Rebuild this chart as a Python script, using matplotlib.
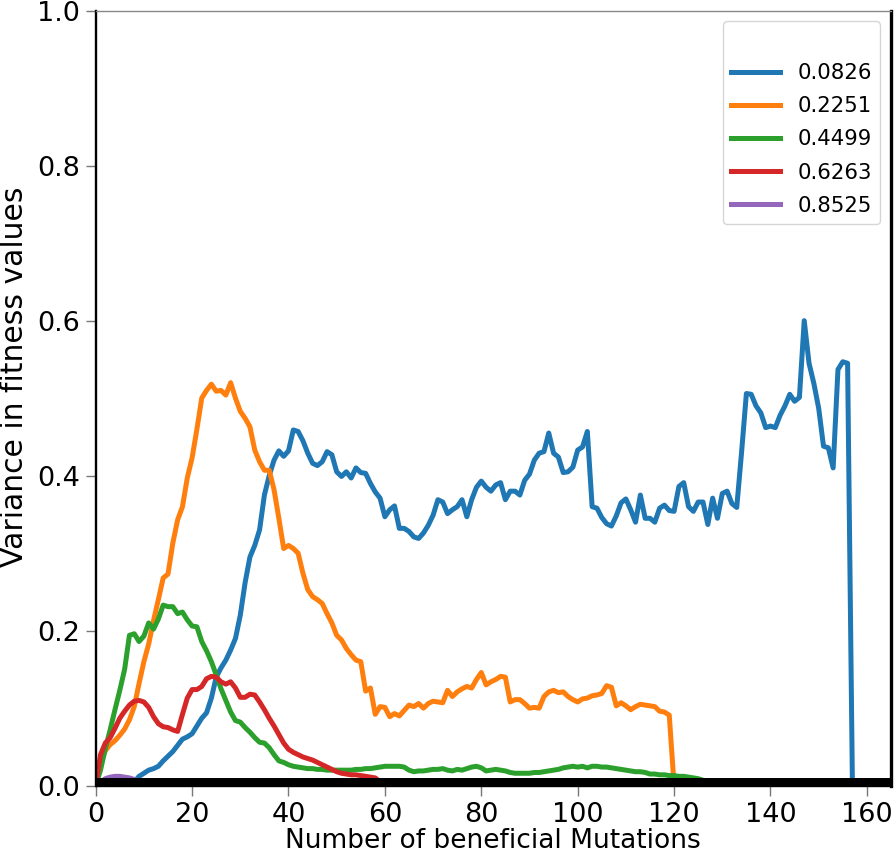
import matplotlib
matplotlib.use("Agg")
import matplotlib.pyplot as plt
import numpy as np

labels = ["0.0826", "0.2251", "0.4499", "0.6263", "0.8525"]
colors = ["#1f77b4", "#ff7f0e", "#2ca02c", "#d62728", "#9467bd"]

blue = [0.0, 0.0, 0.0, 0.0, 0.0, 0.0, 0.0, 0.0, 0.005, 0.012,
        0.016, 0.02, 0.022, 0.025, 0.032, 0.038, 0.044, 0.052, 0.06, 0.063,
        0.067, 0.077, 0.087, 0.094, 0.113, 0.14, 0.152, 0.162, 0.175, 0.19,
        0.22, 0.262, 0.295, 0.31, 0.33, 0.375, 0.40, 0.42, 0.432, 0.425,
        0.432, 0.459, 0.457, 0.445, 0.429, 0.416, 0.413, 0.418, 0.431, 0.427,
        0.405, 0.399, 0.405, 0.397, 0.410, 0.404, 0.403, 0.390, 0.379, 0.371,
        0.347, 0.356, 0.361, 0.332, 0.332, 0.328, 0.321, 0.319, 0.326, 0.336,
        0.349, 0.369, 0.366, 0.351, 0.356, 0.360, 0.369, 0.347, 0.369, 0.385,
        0.393, 0.385, 0.380, 0.388, 0.391, 0.369, 0.380, 0.380, 0.375, 0.394,
        0.402, 0.420, 0.429, 0.431, 0.455, 0.429, 0.424, 0.404, 0.405, 0.411,
        0.433, 0.437, 0.457, 0.360, 0.358, 0.346, 0.338, 0.335, 0.348, 0.365,
        0.370, 0.356, 0.340, 0.375, 0.345, 0.345, 0.340, 0.358, 0.362, 0.355,
        0.354, 0.386, 0.391, 0.360, 0.354, 0.366, 0.366, 0.337, 0.371, 0.345,
        0.377, 0.380, 0.364, 0.359, 0.43, 0.506, 0.505, 0.490, 0.481, 0.462,
        0.464, 0.462, 0.478, 0.490, 0.505, 0.496, 0.501, 0.600, 0.545, 0.519,
        0.487, 0.438, 0.436, 0.410, 0.537, 0.547, 0.545, 0.0]

orange = [0.0, 0.03, 0.045, 0.053, 0.058, 0.065, 0.073, 0.085, 0.102, 0.132,
          0.16, 0.183, 0.213, 0.24, 0.268, 0.273, 0.313, 0.343, 0.36, 0.397,
          0.423, 0.46, 0.50, 0.51, 0.518, 0.509, 0.51, 0.504, 0.52, 0.50,
          0.483, 0.474, 0.463, 0.433, 0.418, 0.407, 0.407, 0.382, 0.345, 0.306,
          0.31, 0.306, 0.30, 0.274, 0.253, 0.244, 0.24, 0.235, 0.222, 0.21,
          0.194, 0.188, 0.177, 0.169, 0.162, 0.16, 0.122, 0.126, 0.092, 0.102,
          0.101, 0.089, 0.093, 0.090, 0.097, 0.104, 0.102, 0.106, 0.100, 0.106,
          0.109, 0.108, 0.107, 0.123, 0.115, 0.121, 0.125, 0.128, 0.126, 0.137,
          0.146, 0.130, 0.134, 0.137, 0.141, 0.140, 0.108, 0.111, 0.111, 0.106,
          0.100, 0.101, 0.100, 0.115, 0.121, 0.123, 0.120, 0.121, 0.115, 0.111,
          0.108, 0.112, 0.113, 0.116, 0.117, 0.119, 0.129, 0.127, 0.103, 0.107,
          0.103, 0.098, 0.102, 0.105, 0.104, 0.103, 0.102, 0.096, 0.095, 0.091,
          0.0]

green = [0.0, 0.02, 0.048, 0.072, 0.098, 0.123, 0.15, 0.194, 0.196, 0.186,
         0.193, 0.21, 0.202, 0.215, 0.233, 0.231, 0.231, 0.222, 0.224, 0.214,
         0.206, 0.205, 0.186, 0.174, 0.16, 0.143, 0.125, 0.11, 0.095, 0.084,
         0.082, 0.075, 0.069, 0.062, 0.056, 0.055, 0.049, 0.04, 0.032, 0.030,
         0.027, 0.025, 0.024, 0.023, 0.022, 0.022, 0.021, 0.021, 0.020, 0.020,
         0.020, 0.020, 0.020, 0.020, 0.021, 0.021, 0.022, 0.022, 0.023, 0.024,
         0.025, 0.025, 0.025, 0.025, 0.024, 0.020, 0.018, 0.019, 0.019, 0.020,
         0.021, 0.021, 0.022, 0.020, 0.019, 0.021, 0.020, 0.022, 0.024, 0.025,
         0.023, 0.019, 0.020, 0.021, 0.020, 0.019, 0.017, 0.016, 0.016, 0.016,
         0.016, 0.017, 0.017, 0.018, 0.019, 0.020, 0.021, 0.023, 0.024, 0.025,
         0.024, 0.025, 0.023, 0.025, 0.025, 0.024, 0.024, 0.023, 0.022, 0.021,
         0.020, 0.019, 0.018, 0.018, 0.017, 0.015, 0.015, 0.014, 0.014, 0.013,
         0.013, 0.012, 0.012, 0.011, 0.010, 0.009, 0.007, 0.005, 0.003, 0.001,
         0.0]

red = [0.0, 0.04, 0.055, 0.062, 0.074, 0.087, 0.096, 0.104, 0.109, 0.110,
       0.108, 0.101, 0.089, 0.080, 0.076, 0.075, 0.072, 0.070, 0.092, 0.113,
       0.124, 0.124, 0.128, 0.138, 0.141, 0.140, 0.134, 0.131, 0.134, 0.126,
       0.114, 0.114, 0.118, 0.117, 0.108, 0.098, 0.087, 0.077, 0.066, 0.055,
       0.047, 0.043, 0.040, 0.037, 0.035, 0.033, 0.030, 0.027, 0.024, 0.021,
       0.018, 0.016, 0.015, 0.014, 0.014, 0.013, 0.012, 0.011, 0.010, 0.005,
       0.0]

purple = [0.0, 0.005, 0.009, 0.011, 0.012, 0.012, 0.011, 0.010, 0.008, 0.005,
          0.002, 0.0]

series = [blue, orange, green, red, purple]

xticks = [0, 20, 40, 60, 80, 100, 120, 140, 160]
yticks = [0.0, 0.2, 0.4, 0.6, 0.8, 1.0]

fig = plt.figure(figsize=(8.96, 8.55), dpi=100)
ax = fig.add_axes([0.1068, 0.0811, 0.8876, 0.9064])

ax.plot([], [], ' ', label=' ')
for vals, c, lab in zip(series, colors, labels):
    ax.plot(np.arange(len(vals)), vals, color=c, lw=3.6, label=lab)

ax.axhline(0, color='black', lw=11.5, zorder=5)

ax.set_xlim(0, 165)
ax.set_ylim(0, 1.0)
ax.set_xticks(xticks)
ax.set_yticks(yticks)
ax.tick_params(axis='both', labelsize=19.5, length=7.5, width=1.0, color='#777777', pad=4)

ax.spines['top'].set_color('#888888')
ax.spines['top'].set_linewidth(1.0)
ax.spines['left'].set_color('black')
ax.spines['left'].set_linewidth(1.7)
ax.spines['right'].set_color('black')
ax.spines['right'].set_linewidth(2.4)
ax.spines['bottom'].set_color('black')
ax.spines['bottom'].set_linewidth(1.0)

ax.set_xlabel("Number of beneficial Mutations", fontsize=19, labelpad=0)
ax.set_ylabel("Variance in fitness values", fontsize=21.5)
ax.yaxis.set_label_coords(-0.084, 0.527)

leg = ax.legend(loc='upper right', fontsize=15.3, handlelength=2.3, labelspacing=0.62)
leg.get_frame().set_edgecolor('#cccccc')

fig.savefig("out.png", dpi=100)
